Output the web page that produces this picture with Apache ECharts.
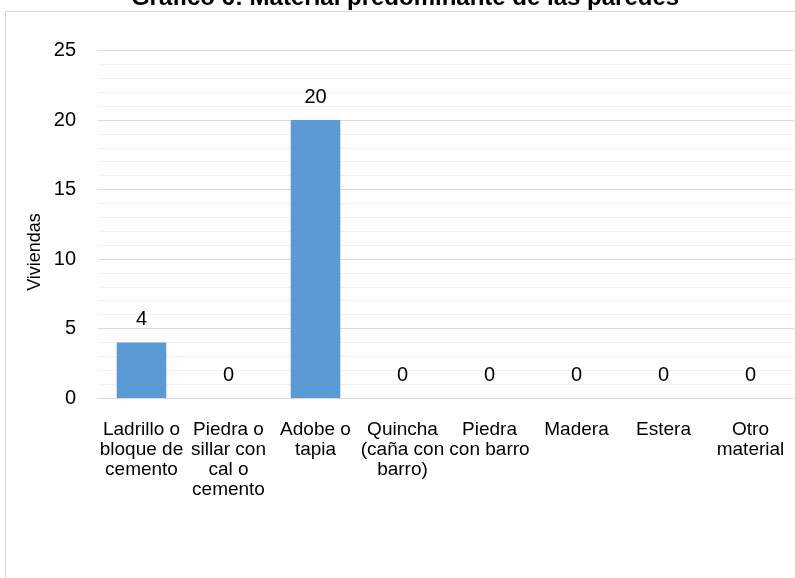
<!DOCTYPE html>
<html>
<head>
<meta charset="utf-8">
<script src="https://cdn.jsdelivr.net/npm/echarts@6/dist/echarts.min.js"></script>
<style>html,body{margin:0;padding:0;background:#fff}#c{width:795px;height:578px}</style>
</head>
<body>
<div id="c"></div>
<script>
const titleText = "Gráfico 6: Material predominante de las paredes";
const yAxisName = "Viviendas";
const categories = [
  "Ladrillo o\nbloque de\ncemento",
  "Piedra o\nsillar con\ncal o\ncemento",
  "Adobe o\ntapia",
  "Quincha\n(caña con\nbarro)",
  "Piedra\ncon barro",
  "Madera",
  "Estera",
  "Otro\nmaterial"
];
const values = [4, 0, 20, 0, 0, 0, 0, 0];
const yTicks = { min: 0, max: 25, interval: 5 };

const FONT = "'Liberation Sans Narrow','Arial Narrow','Liberation Sans',Arial,sans-serif";
const chart = echarts.init(document.getElementById('c'), null, { renderer: 'canvas' });
chart.setOption({
  animation: false,
  backgroundColor: '#ffffff',
  textStyle: { fontFamily: FONT },
  grid: { left: 98, right: 1, top: 50.5, bottom: 180, containLabel: false },
  graphic: [
    { type: 'rect', shape: { x: 5.5, y: 11.5, width: 1000, height: 1000 }, style: { fill: 'none', stroke: '#d9d9d9', lineWidth: 1 }, silent: true },
    { type: 'text', x: 405, y: -13.5, style: { text: titleText, fontFamily: "'Liberation Sans',Arial,sans-serif", fontWeight: 'bold', fontSize: 24, fill: '#000', textAlign: 'center', textVerticalAlign: 'top' } },
    { type: 'text', x: 35, y: 252, rotation: Math.PI / 2, style: { text: yAxisName, fontFamily: FONT, fontSize: 18, fill: '#000', textAlign: 'center', textVerticalAlign: 'middle' } }
  ],
  xAxis: {
    type: 'category',
    data: categories,
    axisLine: { show: true, lineStyle: { color: '#d9d9d9', width: 1 } },
    axisTick: { show: false },
    axisLabel: { interval: 0, fontSize: 19, lineHeight: 20, color: '#000', margin: 22, fontFamily: FONT, align: 'center' }
  },
  yAxis: {
    type: 'value',
    min: yTicks.min, max: yTicks.max, interval: yTicks.interval,
    axisLine: { show: false },
    axisTick: { show: false },
    axisLabel: { fontSize: 20, color: '#000', margin: 22, fontFamily: FONT },
    splitLine: { show: true, lineStyle: { color: '#d9d9d9', width: 1 } },
    minorTick: { show: false, splitNumber: 5 },
    minorSplitLine: { show: true, lineStyle: { color: '#f2f2f2', width: 1 } }
  },
  series: [{
    type: 'bar',
    data: values,
    barWidth: '57%',
    itemStyle: { color: '#5b9bd5' },
    label: { show: true, position: 'top', distance: 13, fontSize: 20, color: '#000', fontFamily: FONT }
  }]
});
</script>
</body>
</html>
